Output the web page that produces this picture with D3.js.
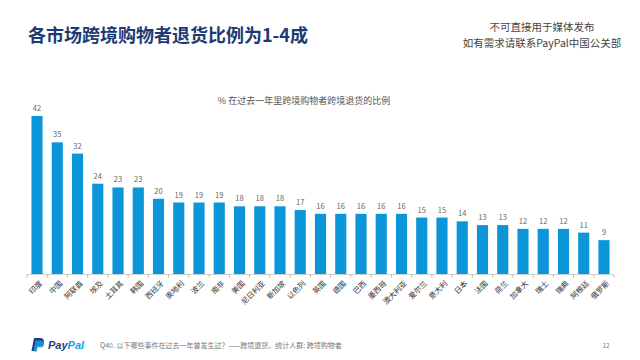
<!DOCTYPE html>
<html><head><meta charset="utf-8">
<script src="https://cdn.jsdelivr.net/npm/d3@7/dist/d3.min.js"></script>
<style>
html,body{margin:0;padding:0;background:#fff;}
svg{display:block;font-family:"Noto Sans CJK SC","Noto Sans",sans-serif;}
</style></head>
<body><svg id="c" width="640" height="360"></svg>
<script>
const categories = ["印度","中国","阿联酋","埃及","土耳其","韩国","西班牙","奥地利","波兰","南非","美国","尼日利亚","新加坡","以色列","英国","德国","巴西","墨西哥","澳大利亚","爱尔兰","意大利","日本","法国","荷兰","加拿大","瑞士","瑞典","阿根廷","俄罗斯"];
const values = [42,35,32,24,23,23,20,19,19,19,18,18,18,17,16,16,16,16,16,15,15,14,13,13,12,12,12,11,9];
const title = "各市场跨境购物者退货比例为1-4成";
const subtitle = "% 在过去一年里跨境购物者跨境退货的比例";
const noteLines = ["不可直接用于媒体发布","如有需求请联系PayPal中国公关部"];
const footnote = "Q40. 以下哪些事件在过去一年曾发生过？——跨境退货。统计人群: 跨境购物者";
const pageNo = "12";

const svg = d3.select("#c");
const x = d3.scaleBand().domain(categories).range([27,614]).paddingInner(0.45).paddingOuter(0.22);
const y = d3.scaleLinear().domain([0,42]).range([274,116]);

svg.append("text").attr("x",28).attr("y",42).attr("font-size",18).attr("font-weight","bold")
  .attr("fill","#1d3a72").text(title);
noteLines.forEach((t,i)=>svg.append("text").attr("x",542).attr("y",31+i*16).attr("text-anchor","middle")
  .attr("font-size",10.5).attr("fill","#444").text(t));
svg.append("text").attr("x",304).attr("y",104).attr("text-anchor","middle").attr("font-size",9)
  .attr("fill","#555").text(subtitle);

svg.append("g").selectAll("rect").data(values).join("rect")
  .attr("x",(d,i)=>x(categories[i])).attr("y",d=>y(d)).attr("width",x.bandwidth())
  .attr("height",d=>y(0)-y(d)).attr("fill","#0a96d8");
svg.append("g").selectAll("text").data(values).join("text")
  .attr("x",(d,i)=>x(categories[i])+x.bandwidth()/2).attr("y",d=>y(d)-5)
  .attr("text-anchor","middle").attr("font-size",7.5).attr("fill","#666").text(d=>d);

// axis
const ax = svg.append("g");
ax.append("line").attr("x1",27).attr("x2",614).attr("y1",274.5).attr("y2",274.5).attr("stroke","#d0d0d0");
const bounds = categories.map(c=>x(c)-x.step()*x.paddingInner()/2).concat([614]);
ax.selectAll("line.t").data(bounds).join("line").attr("class","t")
  .attr("x1",d=>d).attr("x2",d=>d).attr("y1",274.5).attr("y2",277.5).attr("stroke","#c8b89a");
ax.selectAll("text").data(categories).join("text")
  .attr("transform",c=>`translate(${x(c)+x.bandwidth()/2+4},${282}) rotate(-45)`)
  .attr("text-anchor","end").attr("dy","0.35em").attr("font-size",7.5).attr("fill","#333").text(c=>c);

// footer logo
const logo = svg.append("g").attr("transform","translate(31,338)");
const pPath = "M3,0 H9 A4,4 0 0 1 9,8 H5.5 L4.5,13 H0.5 Z";
logo.append("path").attr("d",pPath).attr("fill","#253b80");
logo.append("path").attr("d",pPath).attr("transform","translate(2,2.5) scale(0.85)").attr("fill","#179bd7").attr("opacity",0.9);
const pp = logo.append("text").attr("x",17).attr("y",11).attr("font-size",11).attr("font-weight","bold").attr("font-style","italic")
  .attr("font-family","Liberation Sans, Arial");
pp.append("tspan").attr("fill","#253b80").text("Pay");
pp.append("tspan").attr("fill","#179bd7").text("Pal");
svg.append("text").attr("x",100).attr("y",348).attr("font-size",7).attr("fill","#777").text(footnote);
svg.append("text").attr("x",606).attr("y",348).attr("text-anchor","middle").attr("font-size",6.5).attr("fill","#777").text(pageNo);
</script></body></html>
